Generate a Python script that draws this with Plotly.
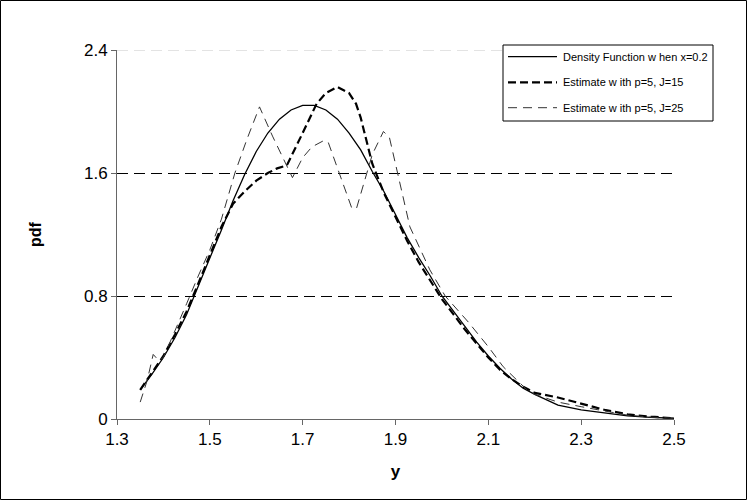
import plotly.graph_objects as go

# ---- data ----
x_density = [1.35, 1.375, 1.40, 1.425, 1.45, 1.475, 1.50, 1.525, 1.55, 1.575, 1.60, 1.625, 1.65,
             1.675, 1.70, 1.725, 1.75, 1.775, 1.80, 1.825, 1.85, 1.875, 1.90, 1.925, 1.95, 1.975,
             2.00, 2.025, 2.05, 2.075, 2.10, 2.125, 2.15, 2.175, 2.20, 2.25, 2.30, 2.35, 2.40, 2.45, 2.50]
y_density = [0.19, 0.29, 0.40, 0.53, 0.68, 0.86, 1.04, 1.23, 1.42, 1.59, 1.74, 1.86, 1.95,
             2.01, 2.04, 2.04, 2.01, 1.95, 1.86, 1.75, 1.61, 1.48, 1.33, 1.18, 1.05, 0.93,
             0.80, 0.70, 0.60, 0.50, 0.41, 0.33, 0.26, 0.20, 0.16, 0.09, 0.06, 0.04, 0.02, 0.01, 0.005]

x_j15 = [1.35, 1.375, 1.40, 1.425, 1.45, 1.475, 1.50, 1.525, 1.55, 1.575, 1.60, 1.625, 1.645, 1.666,
         1.70, 1.73, 1.75, 1.775, 1.80, 1.815, 1.825, 1.85, 1.875, 1.90, 1.925, 1.95, 1.975,
         2.00, 2.025, 2.05, 2.075, 2.10, 2.125, 2.15, 2.175, 2.20, 2.25, 2.30, 2.35, 2.40, 2.45, 2.50]
y_j15 = [0.19, 0.30, 0.41, 0.55, 0.70, 0.88, 1.06, 1.25, 1.40, 1.48, 1.55, 1.60, 1.63, 1.65,
         1.86, 2.05, 2.12, 2.16, 2.12, 2.05, 1.96, 1.66, 1.47, 1.31, 1.16, 1.02, 0.90,
         0.78, 0.68, 0.58, 0.49, 0.40, 0.32, 0.26, 0.21, 0.17, 0.14, 0.10, 0.06, 0.03, 0.015, 0.005]

x_j25 = [1.35, 1.365, 1.378, 1.39, 1.40, 1.425, 1.45, 1.475, 1.50, 1.525, 1.554, 1.58, 1.607,
         1.635, 1.664, 1.678, 1.70, 1.72, 1.745, 1.755, 1.806, 1.816, 1.85, 1.874, 1.887,
         1.917, 1.931, 1.974, 2.007, 2.057, 2.10, 2.132, 2.183, 2.20, 2.25, 2.30, 2.35, 2.40, 2.45, 2.50]
y_j25 = [0.11, 0.25, 0.42, 0.38, 0.40, 0.57, 0.75, 0.93, 1.10, 1.30, 1.60, 1.82, 2.03,
         1.84, 1.65, 1.57, 1.70, 1.77, 1.81, 1.80, 1.37, 1.37, 1.72, 1.87, 1.83,
         1.42, 1.25, 0.97, 0.80, 0.63, 0.47, 0.34, 0.19, 0.16, 0.11, 0.08, 0.05, 0.025, 0.012, 0.005]

x_ticks = [1.3, 1.5, 1.7, 1.9, 2.1, 2.3, 2.5]
x_tick_text = ["1.3", "1.5", "1.7", "1.9", "2.1", "2.3", "2.5"]
y_ticks = [0, 0.8, 1.6, 2.4]
y_tick_text = ["0", "0.8", "1.6", "2.4"]

names = ["Density Function w hen x=0.2", "Estimate w ith p=5, J=15", "Estimate w ith p=5, J=25"]

# ---- styles ----
styles = [
    dict(color="black", width=1.3, dash="solid"),
    dict(color="black", width=2.2, dash="8px,4px"),
    dict(color="#333333", width=1.0, dash="9px,6px"),
]

FONT = "Liberation Sans, Arial, sans-serif"
W, H = 747, 500
L, R, T, B = 117, 674, 50, 419  # plot area in page pixels
PW, PH = R - L, B - T


def px(x):
    return (x - L) / PW


def py(y):
    return (B - y) / PH


fig = go.Figure()
for xs, ys, st, nm in zip([x_density, x_j15, x_j25], [y_density, y_j15, y_j25], styles, names):
    fig.add_trace(go.Scatter(x=xs, y=ys, mode="lines", name=nm, line=st, showlegend=False))

shapes = []
# lighten the top grid line (drawn crisp by the axis) to a pale dash
top = y_ticks[-1]
shapes.append(dict(type="line", xref="paper", yref="y", x0=0, x1=1, y0=top, y1=top,
                   line=dict(color="white", width=3), layer="above"))
shapes.append(dict(type="line", xref="paper", yref="y", x0=0, x1=1, y0=top, y1=top,
                   line=dict(color="#c8c8c8", width=1, dash="11px,6px"), layer="above"))
# outer border
shapes.append(dict(type="rect", xref="paper", yref="paper", x0=px(0.5), x1=px(W - 0.5),
                   y0=py(H - 0.5), y1=py(0.5), line=dict(color="black", width=1), layer="above"))
# legend box
LB = dict(x0=503, x1=713, y0=45, y1=121)
shapes.append(dict(type="rect", xref="paper", yref="paper", x0=px(LB["x0"]), x1=px(LB["x1"]),
                   y0=py(LB["y1"]), y1=py(LB["y0"]), line=dict(color="black", width=1),
                   fillcolor="white", layer="above"))
entry_y = [56.7, 82.3, 107.7]
annotations = []
for ey, st, nm in zip(entry_y, styles, names):
    shapes.append(dict(type="line", xref="paper", yref="paper", x0=px(508), x1=px(557),
                       y0=py(ey), y1=py(ey), line=st, layer="above"))
    annotations.append(dict(xref="paper", yref="paper", x=px(561), y=py(ey), text=nm,
                            showarrow=False, xanchor="left", yanchor="middle",
                            font=dict(family=FONT, size=11, color="black")))

fig.update_layout(
    width=W, height=H,
    margin=dict(l=L, r=W - R, t=T, b=H - B, pad=0),
    paper_bgcolor="white", plot_bgcolor="white",
    font=dict(family=FONT, size=17, color="black"),
    shapes=shapes, annotations=annotations,
    showlegend=False,
)
fig.update_xaxes(range=[1.3, 2.5], tickvals=x_ticks, ticktext=x_tick_text, ticks="outside",
                 ticklen=5, tickcolor="#666666", showline=True, linecolor="#666666", linewidth=1,
                 showgrid=False, zeroline=False,
                 title=dict(text="<b>y</b>", font=dict(family=FONT, size=17), standoff=16))
fig.update_yaxes(range=[0, 2.4], tickvals=y_ticks, ticktext=y_tick_text, ticks="outside",
                 ticklen=5, tickcolor="#666666", showline=True, linecolor="#666666", linewidth=1,
                 showgrid=True, gridcolor="black", gridwidth=1, griddash="11px,6px",
                 zeroline=False,
                 title=dict(text="<b>pdf</b>", font=dict(family=FONT, size=16), standoff=38))

fig.write_html("out.html", post_script="document.body.style.margin='0';",
               config={"displayModeBar": False})
